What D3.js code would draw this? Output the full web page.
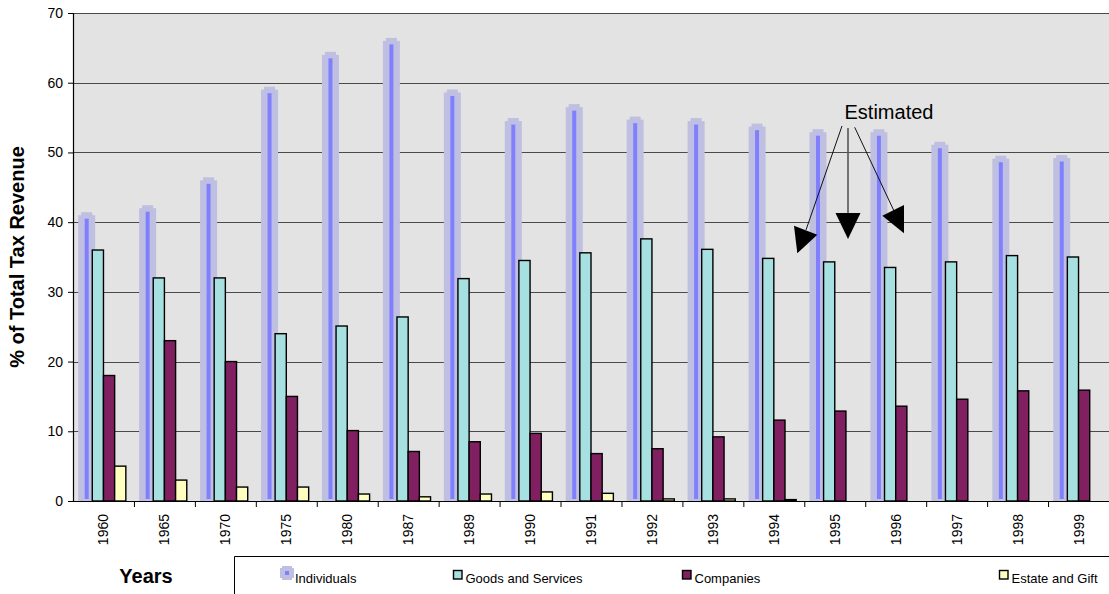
<!DOCTYPE html>
<html>
<head>
<meta charset="utf-8">
<script src="https://cdn.jsdelivr.net/npm/d3@7"></script>
<style>
  html, body { margin: 0; padding: 0; background: #fff; }
  svg { display: block; font-family: "Liberation Sans", Arial, sans-serif; }
</style>
</head>
<body>
<svg id="chart" width="1109" height="594"></svg>
<script>
// Share of total tax revenue by source, selected years
const years = ["1960", "1965", "1970", "1975", "1980", "1987", "1989", "1990", "1991",
               "1992", "1993", "1994", "1995", "1996", "1997", "1998", "1999"];
const individuals   = [41, 42, 46, 59, 64, 66, 58.6, 54.5, 56.5, 54.7, 54.5, 53.7, 52.9, 52.9, 51.1, 49.1, 49.2];
const goodsServices = [36, 32, 32, 24, 25.1, 26.4, 31.9, 34.5, 35.6, 37.6, 36.1, 34.8, 34.3, 33.5, 34.3, 35.2, 35.0];
const companies     = [18, 23, 20, 15, 10.1, 7.1, 8.5, 9.7, 6.8, 7.5, 9.2, 11.6, 12.9, 13.6, 14.6, 15.8, 15.9];
const estateGift    = [5, 3, 2, 2, 1, 0.6, 1, 1.3, 1.1, 0.3, 0.3, 0.2, 0, 0, 0, 0, 0];
const seriesNames   = ["Individuals", "Goods and Services", "Companies", "Estate and Gift"];
const yTicks        = [0, 10, 20, 30, 40, 50, 60, 70];
const estimatedYears = ["1995", "1996"];

const svg = d3.select("#chart");
const W = 1109, H = 594;
const m = { left: 73, top: 13, right: 0, bottom: 93 };
const pw = W - m.left - m.right, ph = H - m.top - m.bottom;

const colors = {
  bg: "#e3e3e3",
  grid: "#4a4a4a",
  indBand: "#bfbfe1",
  indCore: "#8080ff",
  goods: "#a6e0e0",
  comp: "#802060",
  estate: "#ffffc0"
};

const x0 = d3.scaleBand().domain(years).range([0, pw]).padding(0);
const step = x0.step();
const x1 = d3.scaleBand().domain(seriesNames).range([step * 0.133, step * 0.867]).padding(0);
const y = d3.scaleLinear().domain([0, 70]).range([ph, 0]);

const g = svg.append("g").attr("transform", `translate(${m.left},${m.top})`);

// plot background
g.append("rect").attr("x", 0).attr("y", 0).attr("width", pw).attr("height", ph).attr("fill", colors.bg);

// horizontal gridlines
g.append("g").selectAll("line").data(yTicks.filter(t => t > 0)).join("line")
  .attr("x1", 0).attr("x2", pw)
  .attr("y1", d => Math.round(y(d)) + 0.5).attr("y2", d => Math.round(y(d)) + 0.5)
  .attr("stroke", colors.grid).attr("stroke-width", 1.2);

// Individuals: wide soft band with a narrow bright core
const indW = x1.bandwidth();
const ind = g.append("g");
years.forEach((yr, i) => {
  const cx = x0(yr) + x1("Individuals") + indW / 2;
  const top = y(individuals[i]);
  ind.append("rect").attr("x", cx - 5.5).attr("y", top - 3).attr("width", 11)
    .attr("height", ph - top + 3).attr("fill", colors.indBand);
  ind.append("rect").attr("x", cx - 8.5).attr("y", top).attr("width", 17)
    .attr("height", ph - top).attr("fill", colors.indBand);
  ind.append("rect").attr("x", cx - 2).attr("y", top + 3.5).attr("width", 4)
    .attr("height", Math.max(0, ph - top - 5.5)).attr("fill", colors.indCore);
});

// outlined bars for the other three series
const outlined = [
  { name: "Goods and Services", values: goodsServices, fill: colors.goods },
  { name: "Companies", values: companies, fill: colors.comp },
  { name: "Estate and Gift", values: estateGift, fill: colors.estate }
];
outlined.forEach(s => {
  g.append("g").selectAll("rect")
    .data(years.map((yr, i) => ({ yr, v: s.values[i] })).filter(d => d.v > 0))
    .join("rect")
    .attr("x", d => x0(d.yr) + x1(s.name))
    .attr("y", d => y(d.v))
    .attr("width", x1.bandwidth())
    .attr("height", d => ph - y(d.v))
    .attr("fill", s.fill)
    .attr("stroke", "#000").attr("stroke-width", 1.4);
});

// Y axis
const yAxis = d3.axisLeft(y).tickValues(yTicks).tickSize(5).tickPadding(5).tickFormat(d3.format("d"));
const ya = g.append("g").call(yAxis);
ya.select(".domain").attr("stroke", "#000").attr("stroke-width", 1.2);
ya.selectAll(".tick line").attr("stroke", "#000");
ya.selectAll(".tick text").attr("font-size", 14).attr("fill", "#000")
  .attr("font-family", "Liberation Sans, Arial, sans-serif");

// X axis: ticks at category boundaries, rotated year labels
const xa = g.append("g").attr("transform", `translate(0,${ph})`);
xa.append("line").attr("x1", 0).attr("x2", pw).attr("y1", 0.5).attr("y2", 0.5)
  .attr("stroke", "#000").attr("stroke-width", 1.2);
xa.selectAll("line.tk").data(years.slice(1)).join("line").attr("class", "tk")
  .attr("x1", d => x0(d) + 0.5).attr("x2", d => x0(d) + 0.5)
  .attr("y1", 0).attr("y2", 6).attr("stroke", "#000");
xa.selectAll("text").data(years).join("text")
  .attr("transform", d => `translate(${x0(d) + step / 2 + 5},13) rotate(-90)`)
  .attr("text-anchor", "end")
  .attr("font-size", 14).attr("fill", "#000")
  .text(d => d);

// Axis titles
svg.append("text")
  .attr("transform", `translate(24,${m.top + ph / 2}) rotate(-90)`)
  .attr("text-anchor", "middle").attr("font-weight", "bold").attr("font-size", 20)
  .text("% of Total Tax Revenue");
svg.append("text").attr("x", 146).attr("y", 583)
  .attr("text-anchor", "middle").attr("font-weight", "bold").attr("font-size", 20)
  .text("Years");

// "Estimated" note with arrows toward the estimated years
const cx = m.left + x0(estimatedYears[0]) + step * 1.39;
const ly = m.top + y(54.8);
const note = svg.append("g");
note.append("text").attr("x", cx).attr("y", ly).attr("text-anchor", "middle")
  .attr("font-size", 20).text("Estimated");
const arrows = [
  { tail: [-47, 7], end: [-83, 111], head: [[-95, 106.7], [-71.7, 115.7], [-91.7, 134.3]], stroke: "#111", w: 1 },
  { tail: [-41, 9], end: [-41, 94], head: [[-53.5, 94], [-28.5, 94], [-41, 120]], stroke: "#555", w: 1.6 },
  { tail: [-34.3, 8.3], end: [5, 92], head: [[15, 86], [15, 114.3], [-6.7, 96.7]], stroke: "#111", w: 1 }
];
arrows.forEach(a => {
  note.append("line")
    .attr("x1", cx + a.tail[0]).attr("y1", ly + a.tail[1])
    .attr("x2", cx + a.end[0]).attr("y2", ly + a.end[1])
    .attr("stroke", a.stroke).attr("stroke-width", a.w);
  note.append("polygon")
    .attr("points", a.head.map(p => [cx + p[0], ly + p[1]].join(",")).join(" "))
    .attr("fill", "#000");
});

// Legend box (open at right and bottom edges)
svg.append("path")
  .attr("d", `M234.5,${H} V556.5 H${W}`)
  .attr("fill", "none").attr("stroke", "#000").attr("stroke-width", 1);

const legendItems = [
  { name: "Individuals", x: 280, type: "band" },
  { name: "Goods and Services", x: 453, type: "box", fill: colors.goods },
  { name: "Companies", x: 682, type: "box", fill: colors.comp },
  { name: "Estate and Gift", x: 999, type: "box", fill: colors.estate }
];
const lg = svg.append("g");
legendItems.forEach(it => {
  if (it.type === "band") {
    lg.append("rect").attr("x", it.x + 2).attr("y", 566).attr("width", 10).attr("height", 14).attr("fill", colors.indBand);
    lg.append("rect").attr("x", it.x).attr("y", 568).attr("width", 14).attr("height", 10).attr("fill", colors.indBand);
    lg.append("rect").attr("x", it.x + 5).attr("y", 571).attr("width", 4).attr("height", 4).attr("fill", colors.indCore);
    lg.append("text").attr("x", it.x + 15).attr("y", 583).attr("font-size", 13).text(it.name);
  } else {
    lg.append("rect").attr("x", it.x + 0.5).attr("y", 570.5).attr("width", 8.5).attr("height", 8.5)
      .attr("fill", it.fill).attr("stroke", "#000").attr("stroke-width", 1.4);
    lg.append("text").attr("x", it.x + 12.5).attr("y", 583).attr("font-size", 13).text(it.name);
  }
});
</script>
</body>
</html>
